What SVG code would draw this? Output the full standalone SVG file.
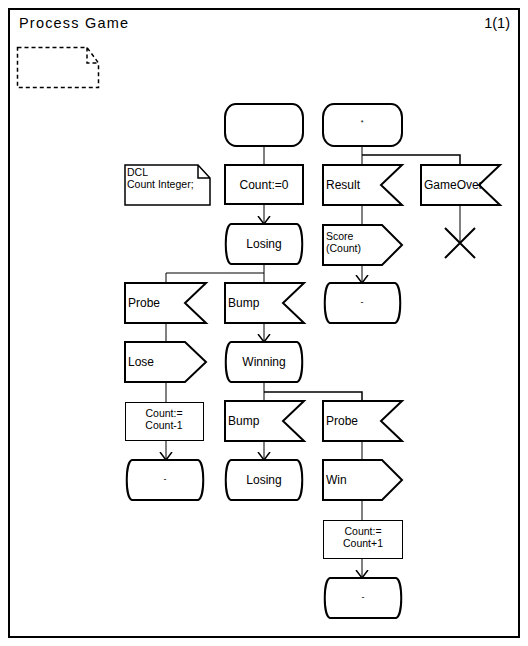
<svg xmlns="http://www.w3.org/2000/svg" width="528" height="646" viewBox="0 0 528 646">
<defs>
<style>
text{font-family:"Liberation Sans",Arial,Helvetica,sans-serif;font-size:12px;fill:#000}
.c{text-anchor:middle}
.two{font-size:10.5px}
.sym{fill:#fff;stroke:#000;stroke-width:2;stroke-linejoin:miter}
.thin{fill:#fff;stroke:#000;stroke-width:1}
.ln{fill:none;stroke:#000;stroke-width:1}
.br{fill:none;stroke:#000;stroke-width:1.5}
</style>
<marker id="arr" markerWidth="14" markerHeight="14" refX="8" refY="7" orient="auto" markerUnits="userSpaceOnUse">
<path d="M0,1 L8,7 L0,13" fill="none" stroke="#000" stroke-width="1.5"/>
</marker>
</defs>
<rect x="0" y="0" width="528" height="646" fill="#fff"/>
<g id="frame">
<rect x="9" y="9" width="510" height="628" fill="none" stroke="#000" stroke-width="2"/>
<text x="19" y="28" style="font-size:14.5px" textLength="109">Process Game</text>
<text x="510" y="28" style="font-size:14.5px;text-anchor:end">1(1)</text>
</g>
<g id="textsym">
<path d="M17.5,47.5 H87 L98.5,63 V87.5 H17.5 Z M87,47.5 V63 H98.5" fill="none" stroke="#000" stroke-width="1.5" stroke-dasharray="4,3"/>
</g>
<g id="connectors">
<path class="ln" d="M264,146 V165"/>
<path class="ln" d="M264,205 V224" marker-end="url(#arr)"/>
<path class="ln" d="M264,264 V283 M166,283 V273 H264"/>
<path class="ln" d="M166,323 V342 M166,382 V402"/>
<path class="ln" d="M166,440 V460" marker-end="url(#arr)"/>
<path class="ln" d="M264,323 V342" marker-end="url(#arr)"/>
<path class="ln" d="M264,382 V401"/>
<path class="br" d="M264,392 H362 V401"/>
<path class="ln" d="M264,441 V460" marker-end="url(#arr)"/>
<path class="ln" d="M362,146 V165"/>
<path class="br" d="M362,155 H460 V165"/>
<path class="ln" d="M362,205 V225"/>
<path class="ln" d="M362,265 V283" marker-end="url(#arr)"/>
<path class="ln" d="M460,205 V243"/>
<path class="ln" d="M362,441 V460 M362,500 V520"/>
<path class="ln" d="M362,558 V578" marker-end="url(#arr)"/>
</g>
<g id="start1">
<rect class="sym" x="225" y="104" width="78" height="42" rx="11" ry="13"/>
</g>
<g id="start2">
<rect class="sym" x="323" y="104" width="79" height="42" rx="11" ry="13"/>
<text class="c" x="362" y="125" style="font-size:7px">*</text>
</g>
<g id="dcl">
<path d="M125,165 H198 L210,178 V205 H125 Z M198,165 V178 H210" fill="#fff" stroke="#000" stroke-width="1.5"/>
<text class="two" x="127" y="176">DCL</text>
<text class="two" x="127" y="188">Count Integer;</text>
</g>
<g id="task0">
<rect class="sym" x="225" y="165" width="78" height="39"/>
<text class="c" x="264" y="189">Count:=0</text>
</g>
<g id="inResult">
<path class="sym" d="M323,165 H402 L381,185 L402,205 H323 Z"/>
<text x="326" y="189">Result</text>
</g>
<g id="inGameOver">
<path class="sym" d="M421,165 H500 L479,185 L500,205 H421 Z"/>
<text x="424" y="189">GameOver</text>
</g>
<g id="stop">
<path d="M445,228 L475,258 M475,228 L445,258" fill="none" stroke="#000" stroke-width="2"/>
</g>
<g id="stateLosing1">
<path class="sym" d="M231,224 H297 C304,226 304,262 297,264 H231 C224,262 224,226 231,224 Z"/>
<text class="c" x="264" y="248">Losing</text>
</g>
<g id="outScore">
<path class="sym" d="M323,225 H382 L402,245 L382,265 H323 Z"/>
<text class="two" x="326" y="240">Score</text>
<text class="two" x="326" y="252">(Count)</text>
</g>
<g id="inProbe1">
<path class="sym" d="M125,283 H206 L185,303 L206,323 H125 Z"/>
<text x="128" y="307">Probe</text>
</g>
<g id="inBump1">
<path class="sym" d="M225,283 H304 L283,303 L304,323 H225 Z"/>
<text x="228" y="307">Bump</text>
</g>
<g id="stateDash1">
<path class="sym" d="M330,283 H395 C402,285 402,321 395,323 H330 C323,321 323,285 330,283 Z"/>
<text class="c" x="362" y="305" style="font-size:9px">-</text>
</g>
<g id="outLose">
<path class="sym" d="M125,342 H185 L206,362 L185,382 H125 Z"/>
<text x="128" y="366">Lose</text>
</g>
<g id="stateWinning">
<path class="sym" d="M231,342 H297 C304,344 304,380 297,382 H231 C224,380 224,344 231,342 Z"/>
<text class="c" x="264" y="366">Winning</text>
</g>
<g id="taskDec">
<rect class="thin" x="125.5" y="402.5" width="78" height="38"/>
<text class="c two" x="164" y="417">Count:=</text>
<text class="c two" x="164" y="429">Count-1</text>
</g>
<g id="inBump2">
<path class="sym" d="M225,401 H304 L283,421 L304,441 H225 Z"/>
<text x="228" y="425">Bump</text>
</g>
<g id="inProbe2">
<path class="sym" d="M323,401 H402 L381,421 L402,441 H323 Z"/>
<text x="326" y="425">Probe</text>
</g>
<g id="stateDash2">
<path class="sym" d="M132,460 H198 C205,462 205,498 198,500 H132 C125,498 125,462 132,460 Z"/>
<text class="c" x="165" y="482" style="font-size:9px">-</text>
</g>
<g id="stateLosing2">
<path class="sym" d="M231,460 H297 C304,462 304,498 297,500 H231 C224,498 224,462 231,460 Z"/>
<text class="c" x="264" y="484">Losing</text>
</g>
<g id="outWin">
<path class="sym" d="M323,460 H382 L402,480 L382,500 H323 Z"/>
<text x="326" y="484">Win</text>
</g>
<g id="taskInc">
<rect class="thin" x="323.5" y="520.5" width="79" height="38"/>
<text class="c two" x="363" y="535">Count:=</text>
<text class="c two" x="363" y="547">Count+1</text>
</g>
<g id="stateDash3">
<path class="sym" d="M330,578 H396 C403,580 403,616 396,618 H330 C323,616 323,580 330,578 Z"/>
<text class="c" x="363" y="600" style="font-size:9px">-</text>
</g>
</svg>
